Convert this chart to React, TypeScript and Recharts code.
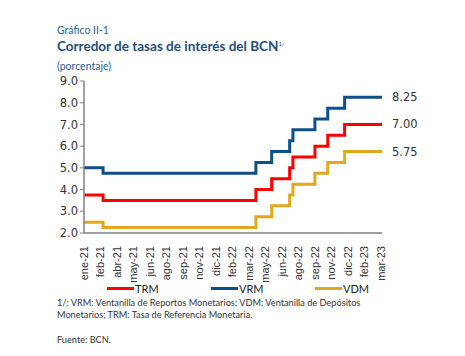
import React from "react";
import { LineChart, Line, XAxis, YAxis } from "recharts";

const changeDates = [
  "2021-01-01", "2021-02-22", "2022-04-15", "2022-05-28", "2022-07-16",
  "2022-07-25", "2022-09-23", "2022-10-28", "2022-12-13", "2023-03-25",
];
const trm = [3.75, 3.5, 4.0, 4.5, 5.0, 5.5, 6.0, 6.5, 7.0, 7.0];
const vrm = [5.0, 4.75, 5.25, 5.75, 6.25, 6.75, 7.25, 7.75, 8.25, 8.25];
const vdm = [2.5, 2.25, 2.75, 3.25, 3.75, 4.25, 4.75, 5.25, 5.75, 5.75];

const tickDates = [
  "2021-01-01", "2021-02-15", "2021-04-01", "2021-05-16", "2021-06-30",
  "2021-08-14", "2021-09-28", "2021-11-12", "2021-12-27", "2022-02-10",
  "2022-03-27", "2022-05-11", "2022-06-25", "2022-08-09", "2022-09-23",
  "2022-11-07", "2022-12-22", "2023-02-05", "2023-03-22",
];
const tickLabels = [
  "ene-21", "feb-21", "abr-21", "may-21", "jun-21", "ago-21", "sep-21",
  "nov-21", "dic-21", "feb-22", "mar-22", "may-22", "jun-22", "ago-22",
  "sep-22", "nov-22", "dic-22", "feb-23", "mar-23",
];
const yTicks = [2, 3, 4, 5, 6, 7, 8, 9];

const base = Date.UTC(2021, 0, 1);
const toDay = (s: string) => {
  const [y, m, d] = s.split("-").map(Number);
  return Math.round((Date.UTC(y, m - 1, d) - base) / 86400000);
};

const data = changeDates.map((d, i) => ({
  day: toDay(d),
  TRM: trm[i],
  VRM: vrm[i],
  VDM: vdm[i],
}));
const ticks = tickDates.map(toDay);
const labelFor: Record<number, string> = {};
ticks.forEach((t, i) => (labelFor[t] = tickLabels[i]));

const RED = "#ff0000";
const BLUE = "#0d4f8b";
const GOLD = "#e0a91b";

const endLabel = (fmt: (v: number) => string) => (props: any) => {
  const { x, y, value, index } = props;
  if (index !== data.length - 1) return null;
  return (
    <text
      x={x + 10}
      y={y + 4}
      fontSize={11.5}
      fontFamily="DejaVu Sans, Verdana, sans-serif"
      fill="#333"
    >
      {fmt(value)}
    </text>
  );
};

const XTick = (props: any) => {
  const { x, y, payload } = props;
  return (
    <text
      x={x}
      y={y}
      transform={`rotate(-90 ${x} ${y})`}
      textAnchor="end"
      dy={4}
      dx={-5}
      fontSize={11}
      fontFamily="Liberation Sans, Arial, sans-serif"
      fill="#333"
    >
      {labelFor[payload.value]}
    </text>
  );
};

const txt: React.CSSProperties = {
  position: "absolute",
  fontFamily: "'Lato', 'Open Sans', sans-serif",
  whiteSpace: "nowrap",
  lineHeight: 1,
};

export default function App() {
  return (
    <div style={{ position: "absolute", left: 0, top: 0, width: 465, height: 356, background: "#fff" }}>
      <div style={{ ...txt, left: 57, top: 25, fontSize: 10.5, color: "#2c5d8f" }}>Gráfico II-1</div>
      <div style={{ ...txt, left: 57, top: 40, fontSize: 13.5, fontWeight: 700, color: "#1f4e79" }}>
        Corredor de tasas de interés del BCN
        <sup style={{ fontSize: 6, fontWeight: 400, verticalAlign: "top", position: "relative", top: 1 }}>1/</sup>
      </div>
      <div style={{ ...txt, left: 57, top: 61, fontSize: 10.5, color: "#2c5d8f" }}>(porcentaje)</div>

      <div style={{ position: "absolute", left: 0, top: 0 }}>
        <LineChart width={465} height={356} data={data} margin={{ top: 81, right: 83, bottom: 0, left: 0 }}>
          <XAxis
            dataKey="day"
            type="number"
            domain={[0, toDay("2023-03-25")]}
            ticks={ticks}
            interval={0}
            tick={<XTick />}
            tickLine={false}
            axisLine={{ stroke: "#808080", strokeWidth: 1.5 }}
            height={123}
          />
          <YAxis
            type="number"
            domain={[2, 9]}
            ticks={yTicks}
            interval={0}
            tickFormatter={(v: number) => v.toFixed(1)}
            tick={{ fontSize: 11.5, fill: "#333", fontFamily: "DejaVu Sans, Verdana, sans-serif" }}
            tickSize={4}
            tickLine={{ stroke: "#808080" }}
            axisLine={{ stroke: "#808080", strokeWidth: 1.5 }}
            width={84}
          />
          <Line type="stepAfter" dataKey="VRM" stroke={BLUE} strokeWidth={3} dot={false} isAnimationActive={false}
            label={endLabel((v) => v.toFixed(2))} />
          <Line type="stepAfter" dataKey="TRM" stroke={RED} strokeWidth={3} dot={false} isAnimationActive={false}
            label={endLabel((v) => v.toFixed(2))} />
          <Line type="stepAfter" dataKey="VDM" stroke={GOLD} strokeWidth={3} dot={false} isAnimationActive={false}
            label={endLabel((v) => v.toFixed(2))} />
        </LineChart>
      </div>

      {[
        { name: "TRM", color: RED, left: 107 },
        { name: "VRM", color: BLUE, left: 211 },
        { name: "VDM", color: GOLD, left: 315 },
      ].map((l) => (
        <div key={l.name} style={{ ...txt, left: l.left, top: 283, fontSize: 11, color: "#222", display: "flex", alignItems: "center" }}>
          <span style={{ display: "inline-block", width: 27, height: 3, background: l.color, marginRight: 1 }} />
          {l.name}
        </div>
      ))}

      <div style={{ ...txt, left: 57, top: 298, fontSize: 9.2, color: "#333" }}>
        1/: VRM: Ventanilla de Reportos Monetarios; VDM: Ventanilla de Depósitos
      </div>
      <div style={{ ...txt, left: 57, top: 310, fontSize: 9.2, color: "#333" }}>
        Monetarios; TRM: Tasa de Referencia Monetaria.
      </div>
      <div style={{ ...txt, left: 57, top: 335, fontSize: 9.2, color: "#333" }}>Fuente: BCN.</div>
    </div>
  );
}
